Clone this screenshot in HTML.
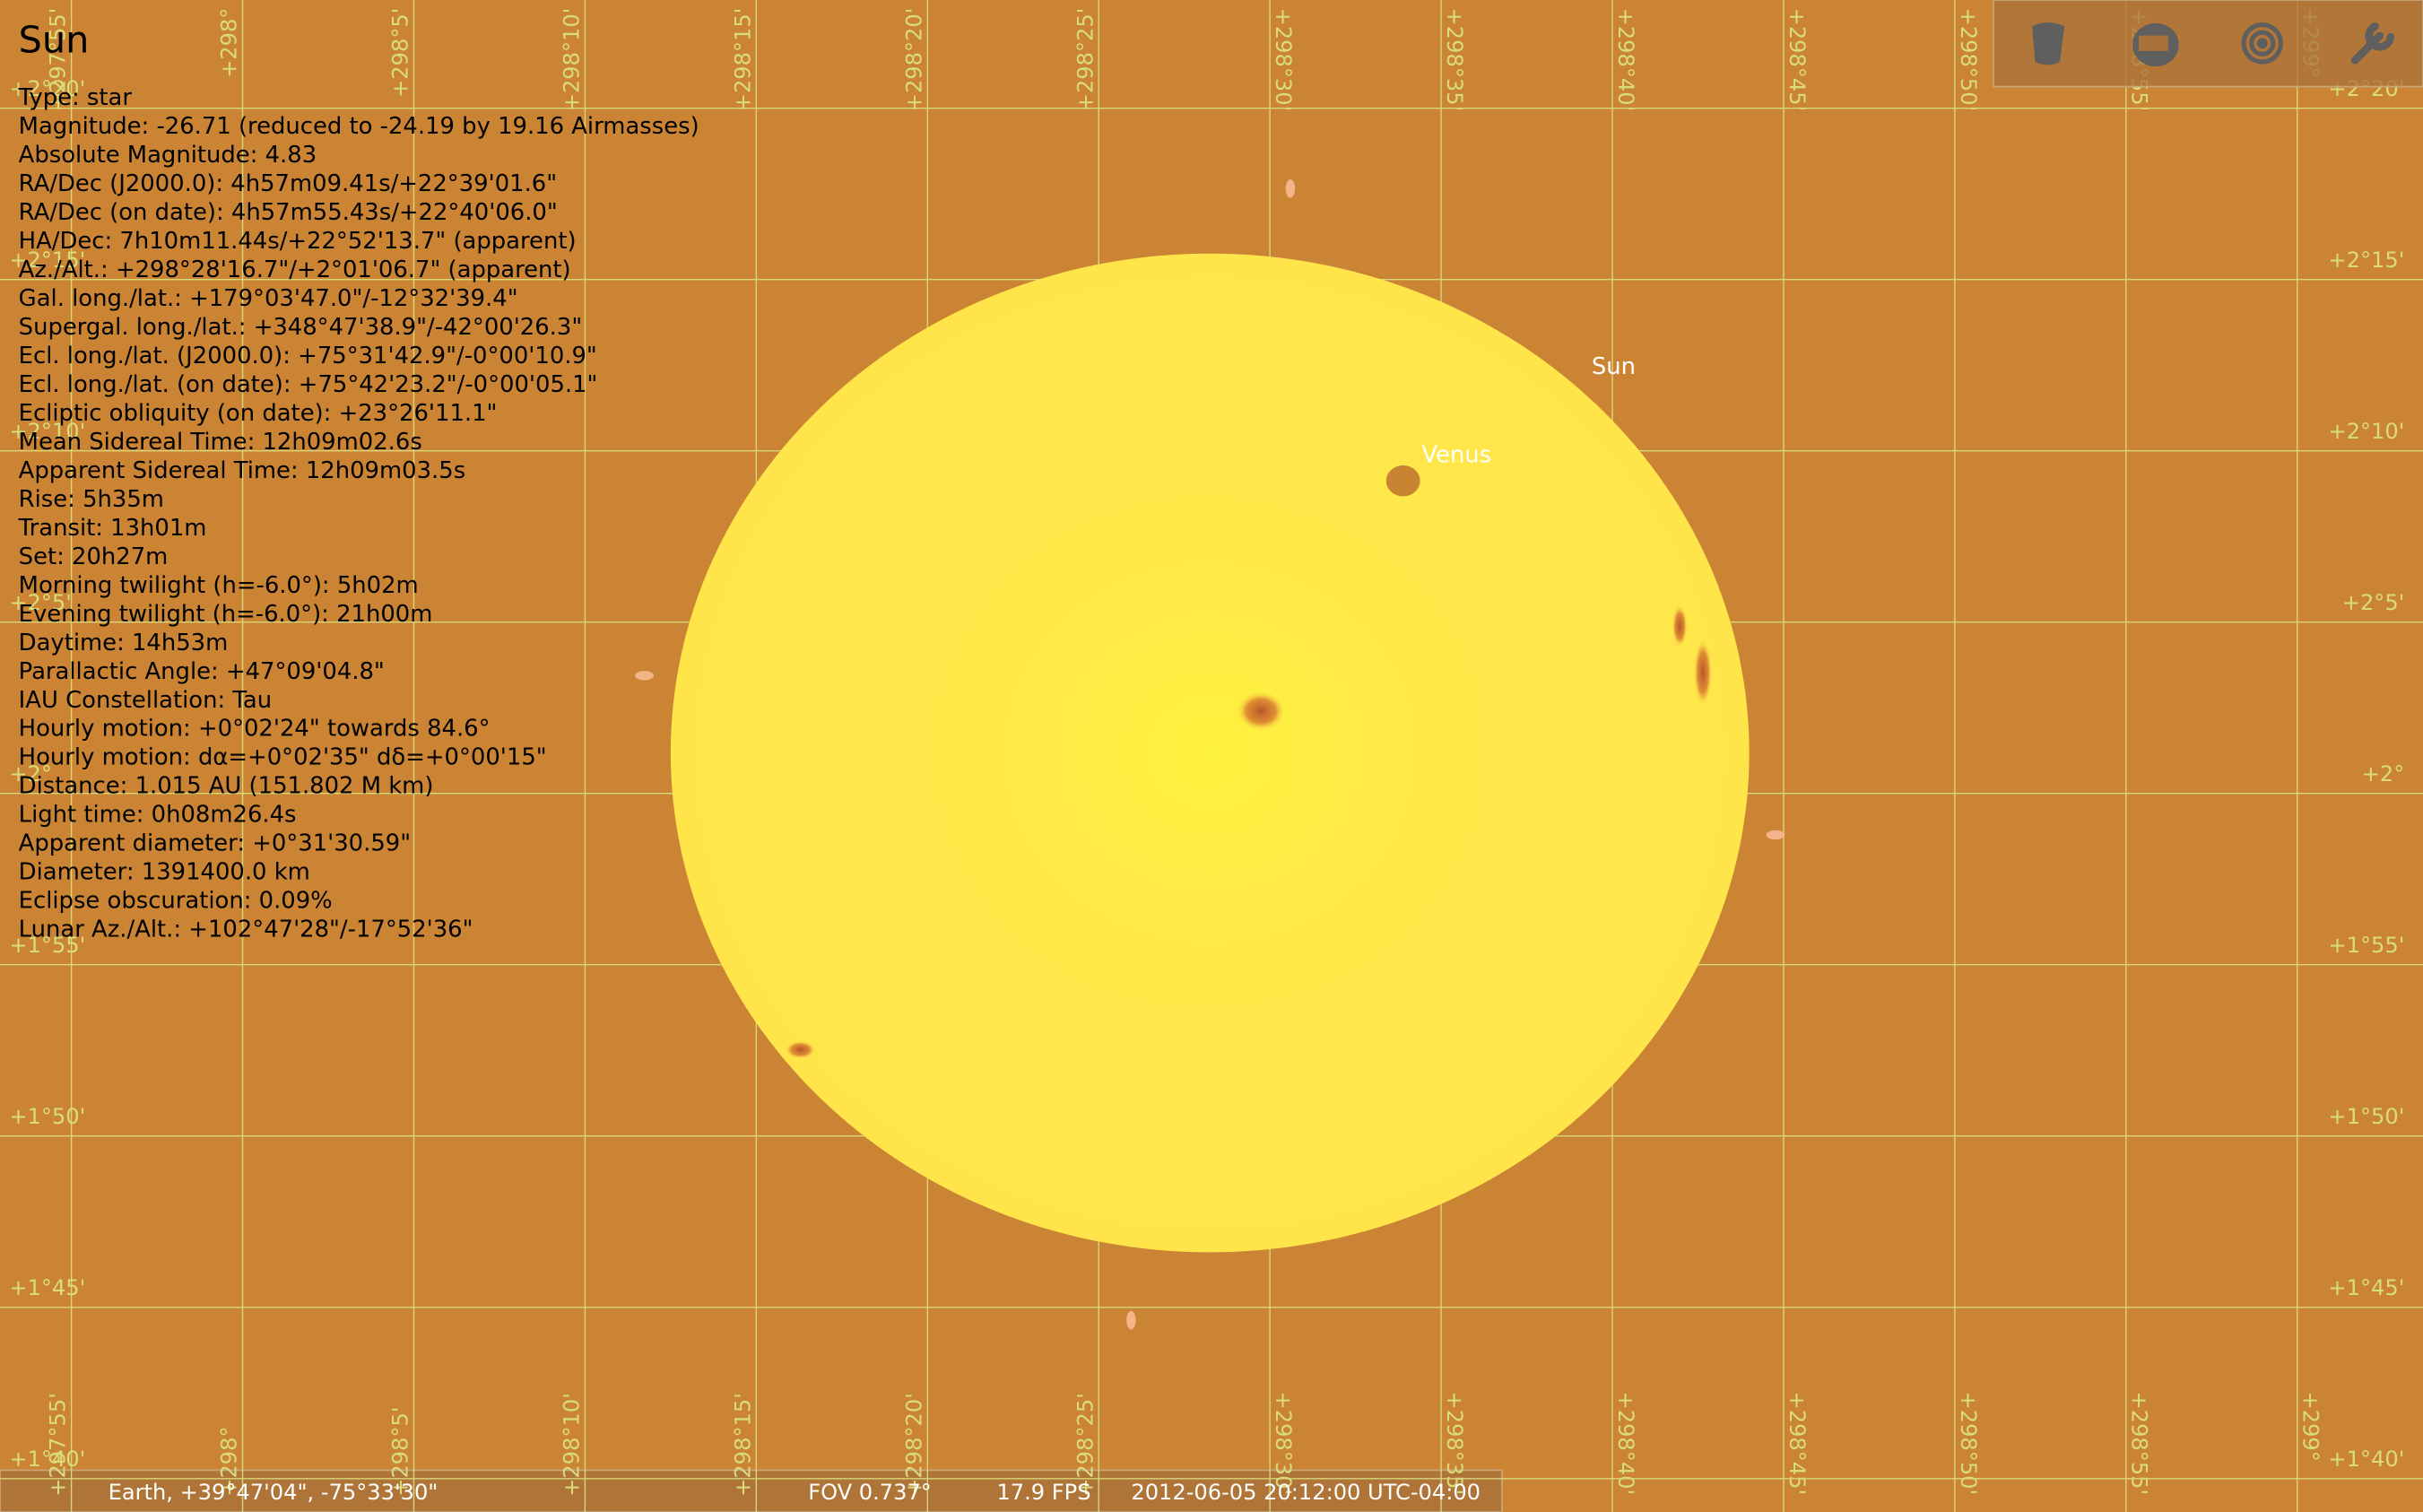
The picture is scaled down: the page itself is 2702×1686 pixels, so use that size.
<!DOCTYPE html>
<html><head><meta charset="utf-8"><style>
html,body{margin:0;padding:0;background:#cb8434;overflow:hidden}
svg{display:block}
text{font-family:"DejaVu Sans","Liberation Sans",sans-serif}
</style></head><body>
<svg id="sky" width="2702" height="1686" viewBox="0 0 1568 978" preserveAspectRatio="none" xmlns="http://www.w3.org/2000/svg">
<defs>
<radialGradient id="sg" cx="0.5" cy="0.5" r="0.5">
<stop offset="0" stop-color="#fff23c"/><stop offset="0.3" stop-color="#ffea48"/><stop offset="1" stop-color="#ffe54a"/>
</radialGradient>
<radialGradient id="spot"><stop offset="0" stop-color="#b6552a"/><stop offset="0.6" stop-color="#d9772f" stop-opacity="0.8"/><stop offset="1" stop-color="#ffe84a" stop-opacity="0"/></radialGradient>
</defs>
<rect x="0" y="0" width="1568" height="978" fill="#cb8434"/>
<g>
<rect x="0" y="951" width="972" height="27" fill="#a8713a" fill-opacity="0.8" stroke="#c9a67a" stroke-width="1"/>
</g>
<g id="grid"></g>
<ellipse cx="783" cy="487" rx="349" ry="323" fill="url(#sg)"/>
<ellipse cx="816" cy="460" rx="16" ry="13" fill="url(#spot)"/>
<ellipse cx="1087" cy="405" rx="5" ry="14" fill="url(#spot)"/>
<ellipse cx="1102" cy="435" rx="6" ry="22" fill="url(#spot)"/>
<ellipse cx="518" cy="679" rx="10" ry="6" fill="url(#spot)"/>
<ellipse cx="417" cy="437" rx="6" ry="3" fill="#f4b48a"/>
<ellipse cx="1149" cy="540" rx="6" ry="3" fill="#f4b48a"/>
<ellipse cx="835" cy="122" rx="3" ry="6" fill="#f4b48a"/>
<ellipse cx="732" cy="854" rx="3" ry="6" fill="#f4b48a"/>
<ellipse cx="908" cy="311" rx="11" ry="10" fill="#c98433"/>
<text x="920" y="299" font-size="15" fill="#ffffff">Venus</text>
<text x="1030" y="242" font-size="15" fill="#ffffff">Sun</text>
<g id="info">
<text x="12" y="34" font-size="24" fill="#000">Sun</text>
</g>
<g>
<rect x="1290" y="0" width="278" height="56" fill="#a8713a" fill-opacity="0.75" stroke="#c9a67a" stroke-width="1"/>
<path d="M1315 17 Q1325 12 1336 17 L1333 40 Q1325 44 1317 40 Z" fill="#5f5f60"/>
<ellipse cx="1395" cy="29" rx="15" ry="14" fill="#5f5f60"/>
<rect x="1384" y="23" width="19" height="10" fill="#a8713a"/>
<g fill="none" stroke="#5f5f60" stroke-width="3"><circle cx="1464" cy="28" r="12"/><circle cx="1464" cy="28" r="7"/><circle cx="1464" cy="28" r="2" fill="#5f5f60"/></g>
<path d="M1524 39 L1540 23 M1537 17 a7 7 0 1 0 10 7" stroke="#5f5f60" stroke-width="5" fill="none" stroke-linecap="round"/>
</g>
<g>
<text x="70" y="970" font-size="14" fill="#fff">Earth, +39°47'04", -75°33'30"</text>
<text x="523" y="970" font-size="14" fill="#fff">FOV 0.737°</text>
<text x="645" y="970" font-size="14" fill="#fff">17.9 FPS</text>
<text x="732" y="970" font-size="14" fill="#fff">2012-06-05 20:12:00 UTC-04:00</text>
</g>
</svg>
<script>
const azLabels=["+297°55'","+298°","+298°5'","+298°10'","+298°15'","+298°20'","+298°25'","+298°30'","+298°35'","+298°40'","+298°45'","+298°50'","+298°55'","+299°"];
const azMinutes=[-5,0,5,10,15,20,25,30,35,40,45,50,55,60];
const altLabels=["+2°20'","+2°15'","+2°10'","+2°5'","+2°","+1°55'","+1°50'","+1°45'","+1°40'"];
const altMinutes=[140,135,130,125,120,115,110,105,100];
const infoLines=["Type: star","Magnitude: -26.71 (reduced to -24.19 by 19.16 Airmasses)","Absolute Magnitude: 4.83","RA/Dec (J2000.0): 4h57m09.41s/+22°39'01.6\"","RA/Dec (on date): 4h57m55.43s/+22°40'06.0\"","HA/Dec: 7h10m11.44s/+22°52'13.7\" (apparent)","Az./Alt.: +298°28'16.7\"/+2°01'06.7\" (apparent)","Gal. long./lat.: +179°03'47.0\"/-12°32'39.4\"","Supergal. long./lat.: +348°47'38.9\"/-42°00'26.3\"","Ecl. long./lat. (J2000.0): +75°31'42.9\"/-0°00'10.9\"","Ecl. long./lat. (on date): +75°42'23.2\"/-0°00'05.1\"","Ecliptic obliquity (on date): +23°26'11.1\"","Mean Sidereal Time: 12h09m02.6s","Apparent Sidereal Time: 12h09m03.5s","Rise: 5h35m","Transit: 13h01m","Set: 20h27m","Morning twilight (h=-6.0°): 5h02m","Evening twilight (h=-6.0°): 21h00m","Daytime: 14h53m","Parallactic Angle: +47°09'04.8\"","IAU Constellation: Tau","Hourly motion: +0°02'24\" towards 84.6°","Hourly motion: dα=+0°02'35\" dδ=+0°00'15\"","Distance: 1.015 AU (151.802 M km)","Light time: 0h08m26.4s","Apparent diameter: +0°31'30.59\"","Diameter: 1391400.0 km","Eclipse obscuration: 0.09%","Lunar Az./Alt.: +102°47'28\"/-17°52'36\""];
const NS="http://www.w3.org/2000/svg";
const px=110.8/5;
function xOf(m){return 157+m*px;}
function yOf(m){return 70+(140-m)*px;}
const g=document.getElementById('grid');
function mk(tag,attrs){const e=document.createElementNS(NS,tag);for(const k in attrs)e.setAttribute(k,attrs[k]);return e;}
azMinutes.forEach((m,i)=>{
  const x=xOf(m);
  const l=mk('line',{x1:x,y1:0,x2:x,y2:978,stroke:'#d8d77a','stroke-width':0.8});
  
  
  g.appendChild(l);
  [0,1].forEach(b=>{
    let t;
    if(x<780){
      if(b){
        t=mk('text',{x:x-4,y:968,transform:`rotate(-90 ${x-4} 968)`,'font-size':14,fill:'#d8dc7a'});
      }else{
        t=mk('text',{x:x-4,y:5,transform:`rotate(-90 ${x-4} 5)`,'font-size':14,fill:'#d8dc7a','text-anchor':'end'});
      }
    }else{
      const yy=b?900:5;
      t=mk('text',{x:x+4,y:yy,transform:`rotate(90 ${x+4} ${yy})`,'font-size':14,fill:'#d8dc7a'});
    }
    t.textContent=azLabels[i];
    
    
    g.appendChild(t);
  });
});
altMinutes.forEach((m,i)=>{
  const y=yOf(m);
  const l=mk('line',{x1:0,y1:y,x2:1568,y2:y,stroke:'#d8d77a','stroke-width':0.8});
  
  
  g.appendChild(l);
  const t1=mk('text',{x:6,y:y-8,'font-size':14,fill:'#d8dc7a'});
  t1.textContent=altLabels[i];
  
  
  g.appendChild(t1);
  const t2=mk('text',{x:1556,y:y-8,'font-size':14,fill:'#d8dc7a','text-anchor':'end'});
  t2.textContent=altLabels[i];
  
  
  g.appendChild(t2);
});
const info=document.getElementById('info');
infoLines.forEach((s,i)=>{
  const t=mk('text',{x:12,y:68+i*18.55,'font-size':15,fill:'#000'});
  t.textContent=s;
  
  
  info.appendChild(t);
});
</script>
</body></html>
